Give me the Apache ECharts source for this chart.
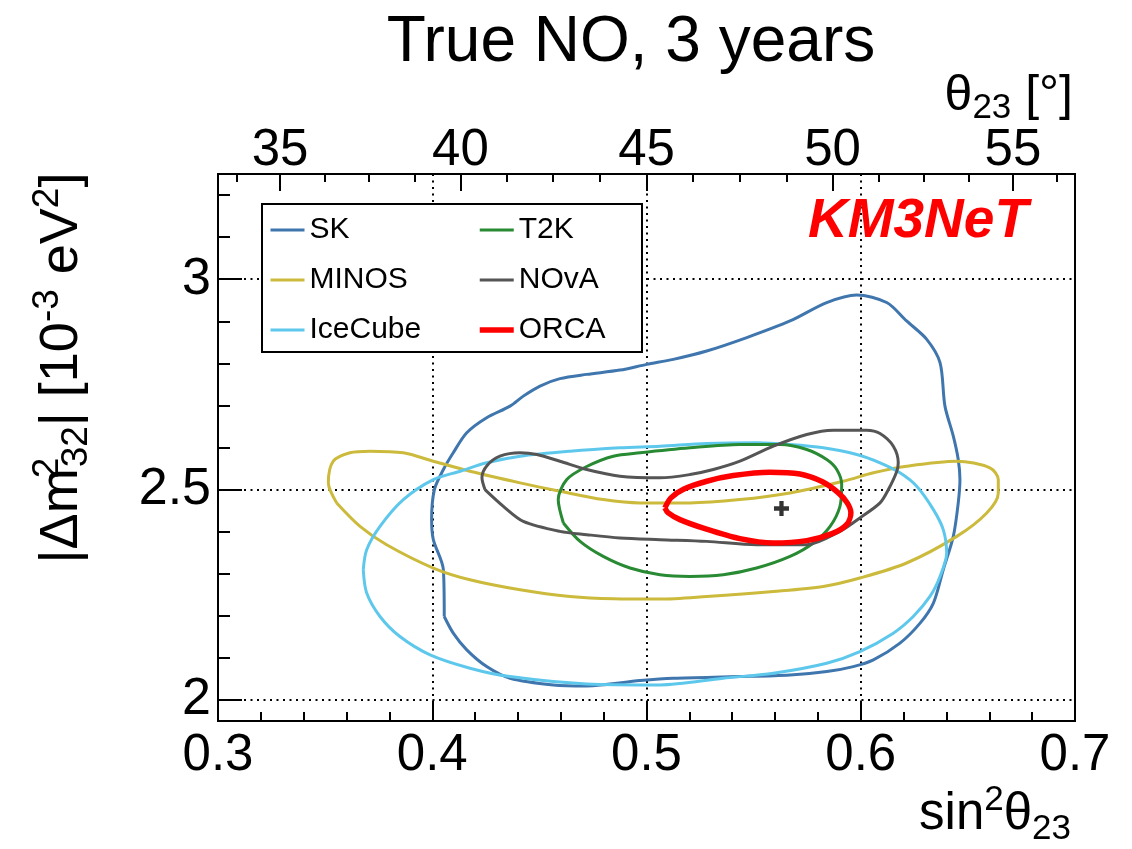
<!DOCTYPE html>
<html>
<head>
<meta charset="utf-8">
<script src="https://cdn.jsdelivr.net/npm/echarts@6/dist/echarts.min.js"></script>
<style>
  html, body { margin: 0; padding: 0; background: #fff; }
  #chart { width: 1132px; height: 849px; }
</style>
</head>
<body>
<div id="chart"></div>
<script>
// Allowed regions (sin^2 theta23, |dm2_32| in 1e-3 eV^2), closed contours
const skContour = [
  [0.4056,2.1983],[0.4052,2.3095],[0.4005,2.3810],[0.3997,2.4286],[0.4010,2.5000],[0.4052,2.5476],
  [0.4098,2.5874],[0.4161,2.6350],[0.4254,2.6707],[0.4363,2.6983],[0.4425,2.7221],[0.4503,2.7460],
  [0.4596,2.7636],[0.4721,2.7738],[0.4876,2.7840],[0.5001,2.7976],[0.5125,2.8095],[0.5281,2.8293],
  [0.5468,2.8612],[0.5670,2.9007],[0.5841,2.9445],[0.5981,2.9626],[0.6121,2.9445],[0.6214,2.9007],
  [0.6308,2.8571],[0.6370,2.8017],[0.6393,2.6983],[0.6432,2.6269],[0.6455,2.5714],[0.6463,2.5238],
  [0.6455,2.4683],[0.6432,2.3888],[0.6385,2.3095],[0.6339,2.2302],[0.6277,2.1826],[0.6183,2.1350],
  [0.6059,2.0952],[0.5965,2.0793],[0.5841,2.0674],[0.5670,2.0595],[0.5436,2.0555],[0.5125,2.0517],
  [0.4970,2.0460],[0.4721,2.0333],[0.4565,2.0357],[0.4363,2.0517],[0.4254,2.0793],[0.4161,2.1190],
  [0.4098,2.1588],[0.4056,2.1983]
];
const minosContour = [
  [0.3554,2.4683],[0.3515,2.5160],[0.3538,2.5674],[0.3616,2.5874],[0.3709,2.5912],[0.3865,2.5874],
  [0.4005,2.5674],[0.4176,2.5436],[0.4410,2.5160],[0.4596,2.4960],[0.4798,2.4762],[0.4970,2.4683],
  [0.5203,2.4683],[0.5436,2.4762],[0.5670,2.4921],[0.5918,2.5198],[0.6059,2.5398],[0.6214,2.5555],
  [0.6448,2.5674],[0.6603,2.5517],[0.6642,2.5238],[0.6642,2.4921],[0.6588,2.4445],[0.6448,2.3888],
  [0.6214,2.3255],[0.5996,2.2898],[0.5825,2.2698],[0.5592,2.2579],[0.5281,2.2460],[0.5063,2.2398],
  [0.4845,2.2405],[0.4643,2.2460],[0.4410,2.2619],[0.4176,2.2857],[0.4005,2.3136],[0.3787,2.3690],
  [0.3663,2.4126],[0.3554,2.4683]
];
const icecubeContour = [
  [0.3678,2.3095],[0.3694,2.3571],[0.3756,2.4126],[0.3865,2.4762],[0.4005,2.5238],[0.4130,2.5436],
  [0.4254,2.5636],[0.4410,2.5793],[0.4643,2.5912],[0.4876,2.5993],[0.5063,2.6031],[0.5281,2.6095],
  [0.5514,2.6112],[0.5670,2.6071],[0.5825,2.5993],[0.5981,2.5833],[0.6090,2.5636],[0.6183,2.5398],
  [0.6261,2.5079],[0.6339,2.4524],[0.6385,2.4048],[0.6401,2.3493],[0.6370,2.2936],[0.6323,2.2460],
  [0.6245,2.1983],[0.6152,2.1588],[0.5996,2.1150],[0.5841,2.0874],[0.5592,2.0636],[0.5358,2.0517],
  [0.5063,2.0357],[0.4721,2.0380],[0.4363,2.0555],[0.4176,2.0755],[0.3990,2.1071],[0.3849,2.1507],
  [0.3756,2.1983],[0.3694,2.2540],[0.3678,2.3095]
];
const t2kContour = [
  [0.4612,2.4207],[0.4588,2.4762],[0.4628,2.5238],[0.4721,2.5548],[0.4845,2.5793],[0.4970,2.5874],
  [0.5203,2.5993],[0.5436,2.6071],[0.5623,2.6071],[0.5748,2.5952],[0.5841,2.5714],[0.5888,2.5476],
  [0.5911,2.5119],[0.5903,2.4602],[0.5857,2.4126],[0.5779,2.3731],[0.5670,2.3412],[0.5514,2.3136],
  [0.5358,2.2976],[0.5203,2.2936],[0.5063,2.2976],[0.4923,2.3136],[0.4798,2.3412],[0.4690,2.3769],
  [0.4612,2.4207]
];
const novaContour = [
  [0.4246,2.5000],[0.4232,2.5286],[0.4256,2.5571],[0.4316,2.5793],[0.4410,2.5874],[0.4488,2.5833],
  [0.4596,2.5674],[0.4721,2.5476],[0.4876,2.5317],[0.5063,2.5279],[0.5203,2.5357],[0.5312,2.5476],
  [0.5436,2.5674],[0.5592,2.6031],[0.5748,2.6310],[0.5872,2.6412],[0.6028,2.6412],[0.6090,2.6333],
  [0.6152,2.6031],[0.6175,2.5636],[0.6168,2.5429],[0.6129,2.5000],[0.6090,2.4683],[0.5996,2.4326],
  [0.5903,2.4007],[0.5748,2.3690],[0.5514,2.3690],[0.5281,2.3769],[0.5063,2.3810],[0.4876,2.3850],
  [0.4721,2.3929],[0.4596,2.4007],[0.4425,2.4245],[0.4332,2.4602],[0.4246,2.5000]
];
const orcaContour = [
  [0.5086,2.4564],[0.5114,2.4802],[0.5175,2.5012],[0.5281,2.5198],[0.5405,2.5333],[0.5576,2.5412],
  [0.5716,2.5369],[0.5819,2.5190],[0.5894,2.4929],[0.5936,2.4690],[0.5954,2.4452],[0.5934,2.4167],
  [0.5866,2.3952],[0.5748,2.3786],[0.5592,2.3730],[0.5436,2.3833],[0.5273,2.4071],[0.5156,2.4286],
  [0.5100,2.4452],[0.5086,2.4564]
];
const bestFit = [[0.563, 2.455]];

const seriesNames = ['SK', 'MINOS', 'IceCube', 'T2K', 'NOvA', 'ORCA'];
const legendLeft = ['SK', 'MINOS', 'IceCube'];
const legendRight = ['T2K', 'NOvA', 'ORCA'];

// Axis ticks
const yMajorTicks = [2, 2.5, 3];
const yMinorTicks = [2.0, 2.1, 2.2, 2.3, 2.4, 2.5, 2.6, 2.7, 2.8, 2.9, 3.0, 3.1, 3.2];
const topMajorDeg = [35, 40, 45, 50, 55];
const topMinorDeg = [33.75, 36.25, 37.5, 38.75, 41.25, 42.5, 43.75, 46.25, 47.5, 48.75,
                     51.25, 52.5, 53.75, 56.25];

const contours = {
  SK: skContour, MINOS: minosContour, IceCube: icecubeContour,
  T2K: t2kContour, NOvA: novaContour, ORCA: orcaContour
};
const colors = {
  SK: '#4076ae', MINOS: '#ccba3c', IceCube: '#5ec8ec',
  T2K: '#288a32', NOvA: '#555555', ORCA: '#ff0000'
};
const widths = { SK: 3, MINOS: 3, IceCube: 3, T2K: 3, NOvA: 3, ORCA: 5.5 };

const FONT = '"Liberation Sans", Arial, Helvetica, sans-serif';
const BLACK = '#000';
const toSin2 = deg => Math.pow(Math.sin(deg * Math.PI / 180), 2);
const toDeg = s => Math.round(Math.asin(Math.sqrt(s)) * 180 / Math.PI);
const tickLine = { color: BLACK, width: 2 };
const dotted = { color: BLACK, width: 2, type: [2, 4.5] };

const series = seriesNames.map(name => ({
  name: name,
  type: 'line',
  data: contours[name],
  smooth: 0.3,
  symbol: 'none',
  showSymbol: false,
  silent: true,
  z: name === 'ORCA' ? 4 : 3,
  lineStyle: { color: colors[name], width: widths[name] },
  itemStyle: { color: colors[name] }
}));
series.push({
  type: 'scatter',
  data: bestFit,
  symbol: 'path://M5 0H9V5H14V9H9V14H5V9H0V5H5Z',
  symbolSize: 15,
  itemStyle: { color: BLACK },
  silent: true,
  z: 6
});

// itemHeight kept tiny so the legend marker dot disappears inside the line sample
const legendBase = {
  orient: 'vertical',
  top: 213,
  itemWidth: 34,
  itemHeight: 2,
  itemGap: 16,
  padding: 0,
  selectedMode: false,
  z: 10,
  lineStyle: { width: 'inherit' },
  textStyle: { fontFamily: FONT, fontSize: 30, color: BLACK, lineHeight: 34 }
};

const supStyle = (size) => ({ fontSize: size, fontFamily: FONT, verticalAlign: 'top', lineHeight: size * 0.9, fill: BLACK });
const subStyle = (size) => ({ fontSize: size, fontFamily: FONT, verticalAlign: 'bottom', lineHeight: size * 0.9, fill: BLACK });

const option = {
  animation: false,
  backgroundColor: '#fff',
  grid: {
    left: 218, top: 174, width: 857, height: 547,
    show: true, borderColor: BLACK, borderWidth: 2, backgroundColor: 'transparent',
    containLabel: false, outerBoundsMode: 'none'
  },
  legend: [
    Object.assign({}, legendBase, { left: 269, data: legendLeft }),
    Object.assign({}, legendBase, { left: 477, data: legendRight })
  ],
  xAxis: [
    {
      type: 'value', position: 'bottom', min: 0.3, max: 0.7, interval: 0.1,
      axisLine: { show: false },
      axisTick: { inside: true, length: 19, lineStyle: tickLine },
      minorTick: { show: true, splitNumber: 5, length: 9, lineStyle: tickLine },
      axisLabel: { fontFamily: FONT, fontSize: 51, color: BLACK, margin: 9 },
      splitLine: { show: true, lineStyle: dotted }
    },
    {
      type: 'value', position: 'top', min: 0.3, max: 0.7,
      axisLine: { show: false },
      axisTick: { inside: true, length: 17, lineStyle: tickLine, customValues: topMajorDeg.map(toSin2) },
      axisLabel: {
        customValues: topMajorDeg.map(toSin2), formatter: v => String(toDeg(v)),
        fontFamily: FONT, fontSize: 51, color: BLACK, margin: -2
      },
      splitLine: { show: false }
    },
    {
      type: 'value', position: 'top', min: 0.3, max: 0.7,
      axisLine: { show: false },
      axisTick: { inside: true, length: 8, lineStyle: tickLine, customValues: topMinorDeg.map(toSin2) },
      axisLabel: { show: false },
      splitLine: { show: false }
    }
  ],
  yAxis: [
    {
      type: 'value', position: 'left', min: 1.95, max: 3.25,
      axisLine: { show: false },
      axisTick: { inside: true, length: 24, lineStyle: tickLine, customValues: yMajorTicks },
      axisLabel: { customValues: yMajorTicks, fontFamily: FONT, fontSize: 52, color: BLACK, margin: 7 },
      splitLine: { show: true, lineStyle: dotted }
    },
    {
      type: 'value', position: 'left', min: 1.95, max: 3.25,
      axisLine: { show: false },
      axisTick: { inside: true, length: 12, lineStyle: tickLine, customValues: yMinorTicks },
      axisLabel: { show: false },
      splitLine: { show: false }
    }
  ],
  graphic: [
    {
      type: 'rect', z: 5, silent: true,
      shape: { x: 262, y: 204, width: 380, height: 148 },
      style: { fill: '#fff', stroke: BLACK, lineWidth: 2 }
    },
    {
      type: 'text', z: 10, silent: true, x: 631, y: 43,
      style: { text: 'True NO, 3 years', fontFamily: FONT, fontSize: 64, fill: BLACK, align: 'center', verticalAlign: 'middle' }
    },
    {
      type: 'text', z: 10, silent: true, x: 808, y: 222,
      style: { text: 'KM3NeT', fontFamily: FONT, fontSize: 55, fontWeight: 'bold', fontStyle: 'italic', fill: '#ff0000', align: 'left', verticalAlign: 'middle' }
    },
    {
      type: 'text', z: 10, silent: true, x: 1073, y: 96,
      style: {
        text: 'θ{sb|23} [°]', fontFamily: FONT, fontSize: 50, lineHeight: 60, fill: BLACK,
        align: 'right', verticalAlign: 'middle', rich: { sb: subStyle(35) }
      }
    },
    {
      type: 'text', z: 10, silent: true, x: 1071, y: 815,
      style: {
        text: 'sin{sp|2}θ{sb|23}', fontFamily: FONT, fontSize: 51, lineHeight: 64, fill: BLACK,
        align: 'right', verticalAlign: 'middle', rich: { sp: supStyle(35), sb: subStyle(35) }
      }
    },
    {
      type: 'text', z: 10, silent: true, x: 62, y: 368, rotation: Math.PI / 2,
      style: {
        text: '|Δm{s0|2}{sb|32}| [10{sp|-3} eV{sp|2}]', fontFamily: FONT, fontSize: 54, lineHeight: 66, fill: BLACK,
        align: 'center', verticalAlign: 'middle',
        rich: { sp: supStyle(37), sb: subStyle(37), s0: Object.assign(supStyle(37), { width: 1 }) }
      }
    }
  ],
  series: series
};

const chart = echarts.init(document.getElementById('chart'), null, { renderer: 'canvas' });
chart.setOption(option);
</script>
</body>
</html>
